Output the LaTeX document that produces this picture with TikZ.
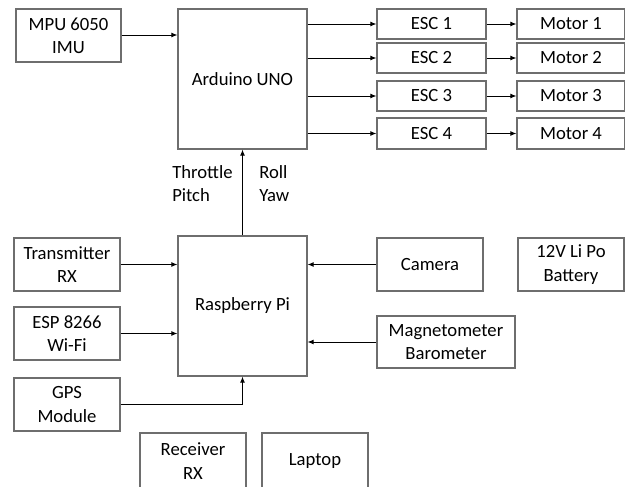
\documentclass[tikz,border=0pt]{standalone}
\usepackage{fontspec}
\setmainfont{Carlito}
\usetikzlibrary{arrows.meta}
\definecolor{boxline}{RGB}{110,110,110}
\begin{document}
\begin{tikzpicture}[x=0.75pt,y=-0.75pt,
  blk/.style={draw=boxline,line width=0.9pt,fill=white,align=center,inner sep=0pt,
    font=\fontsize{14}{17.5}\selectfont},
  conn/.style={black,line width=0.6pt,-{Latex[length=4.5pt,width=3.6pt]}},
  lbl/.style={align=left,inner sep=0pt,anchor=north west,font=\fontsize{14}{17.5}\selectfont}]
\useasboundingbox (0,0) rectangle (625,486);
\clip (0,0) rectangle (625,486);
\fill[white] (0,0) rectangle (625,486);
% boxes
\node[blk,minimum width=105pt*0.75,minimum height=53pt*0.75] (mpu) at (68.5,35.5) {MPU 6050\\IMU};
\node[blk,minimum width=129pt*0.75,minimum height=140pt*0.75] (ard) at (242.5,79) {Arduino UNO};
\node[blk,minimum width=109pt*0.75,minimum height=30pt*0.75] (esc1) at (431.5,24) {ESC 1};
\node[blk,minimum width=109pt*0.75,minimum height=30pt*0.75] (esc2) at (431.5,58) {ESC 2};
\node[blk,minimum width=109pt*0.75,minimum height=30pt*0.75] (esc3) at (431.5,96) {ESC 3};
\node[blk,minimum width=109pt*0.75,minimum height=31pt*0.75] (esc4) at (431.5,133.5) {ESC 4};
\node[blk,minimum width=108pt*0.75,minimum height=30pt*0.75] (m1) at (571,24) {Motor 1};
\node[blk,minimum width=108pt*0.75,minimum height=30pt*0.75] (m2) at (571,58) {Motor 2};
\node[blk,minimum width=108pt*0.75,minimum height=30pt*0.75] (m3) at (571,96) {Motor 3};
\node[blk,minimum width=108pt*0.75,minimum height=31pt*0.75] (m4) at (571,133.5) {Motor 4};
\node[blk,minimum width=129pt*0.75,minimum height=140pt*0.75] (pi) at (242.5,306) {Raspberry Pi};
\node[blk,minimum width=106pt*0.75,minimum height=53pt*0.75] (tx) at (67,264.5) {Transmitter\\RX};
\node[blk,minimum width=106pt*0.75,minimum height=53pt*0.75] (esp) at (67,333.5) {ESP 8266\\Wi-Fi};
\node[blk,minimum width=106pt*0.75,minimum height=53pt*0.75] (gps) at (67,404.5) {GPS\\Module};
\node[blk,minimum width=106pt*0.75,minimum height=53pt*0.75] (cam) at (430,264.5) {Camera};
\node[blk,minimum width=106pt*0.75,minimum height=53pt*0.75] (bat) at (571,264.5) {12V Li Po\\Battery};
\node[blk,minimum width=138pt*0.75,minimum height=52pt*0.75] (mag) at (446,342) {Magnetometer\\Barometer};
\node[blk,minimum width=106pt*0.75,minimum height=56pt*0.75] (rcv) at (193,461) {Receiver\\RX};
\node[blk,minimum width=106pt*0.75,minimum height=56pt*0.75] (lap) at (315,461) {Laptop};
% labels
\node[lbl] (thr) at (172,165) {Throttle\\Pitch};
\node[lbl] (rol) at (259,165) {Roll\\Yaw};
% connectors
\draw[conn] (mpu.east |- 0,35) -- (ard.west |- 0,35);
\draw[conn] (ard.east |- esc1) -- (esc1.west);
\draw[conn] (ard.east |- esc2) -- (esc2.west);
\draw[conn] (ard.east |- esc3) -- (esc3.west);
\draw[conn] (ard.east |- esc4) -- (esc4.west);
\draw[conn] (esc1) -- (m1);
\draw[conn] (esc2) -- (m2);
\draw[conn] (esc3) -- (m3);
\draw[conn] (esc4) -- (m4);
\draw[conn] (pi.north) -- (ard.south);
\draw[conn] (tx.east) -- (pi.west |- tx.east);
\draw[conn] (esp.east) -- (pi.west |- esp.east);
\draw[conn] (gps.east) -| (pi.south);
\draw[conn] (cam.west) -- (pi.east |- cam.west);
\draw[conn] (mag.west) -- (pi.east |- mag.west);
\end{tikzpicture}
\end{document}
